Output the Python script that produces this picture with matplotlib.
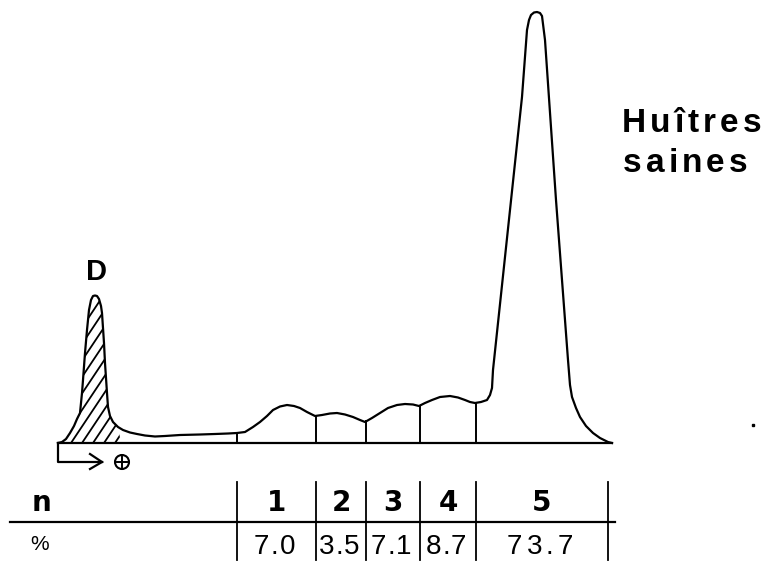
import numpy as np
import matplotlib
matplotlib.use("Agg")
from matplotlib import pyplot as plt
from matplotlib.patches import Polygon, Circle

# Densitometer trace (x in px, height above baseline in px)
trace_x = [58, 62, 66, 70, 74, 77, 80, 82, 83, 85, 87, 89, 91, 93, 95, 97, 99, 101, 102, 104,
           105, 107, 108, 110, 113, 118, 123, 130, 137, 145, 155, 165, 180, 200, 215, 228, 237,
           245, 253, 260, 267, 273, 280, 287, 294, 300, 307, 315, 322, 330, 337, 345, 353, 360,
           365, 372, 380, 388, 397, 405, 413, 419, 425, 432, 440, 450, 458, 465, 470, 475, 481,
           487, 490, 492, 493, 522, 527, 529, 531, 534, 537, 540, 542, 545, 556, 568, 570, 572,
           576, 580, 586, 593, 600, 608, 612]
trace_y = [0, 1, 4, 10, 17, 24, 30, 50, 63, 90, 113, 133, 143, 147, 147.5, 147, 144, 137, 130, 100,
           80, 50, 36, 27, 21, 16, 13, 10.5, 9, 7.5, 6.5, 7, 8, 8.5, 9, 9.5, 10,
           11, 16, 21, 27, 33, 36.5, 38, 37, 35, 31, 27, 28, 29.5, 30, 28.5, 26, 23,
           21, 25, 30, 35, 38, 39, 38.5, 37, 40, 43, 46, 47, 45.5, 43, 41, 40, 41,
           43, 48, 55, 73, 346, 413, 423, 428, 430.5, 431, 430, 427, 403, 243, 83, 58, 46,
           35, 26, 17, 10, 5, 1, 0]

# fraction boundaries (px) and table contents
cuts = [237, 316, 366, 420, 476]
table_end = 608
fractions = ["1", "2", "3", "4", "5"]
percents = ["7.0", "3.5", "7.1", "8.7", "73.7"]
d_end = 121  # end of the hatched D peak

fig = plt.figure(figsize=(7.68, 5.63), dpi=100)
ax = fig.add_axes([0, 0, 1, 1])
ax.set_xlim(0, 768)
ax.set_ylim(-120, 443)
ax.axis("off")

lw = 1.6
tx = np.array(trace_x, dtype=float)
ty = np.array(trace_y, dtype=float)
ax.plot(tx, ty, color="black", lw=lw, solid_joinstyle="round", zorder=3)
ax.plot([58, 612], [0, 0], color="black", lw=lw)

# hatched peak D (steep hatch clipped to the area under the curve)
m = tx <= d_end
verts = np.column_stack([np.r_[tx[m], d_end], np.r_[ty[m], 0]])
clip = Polygon(verts, closed=True, facecolor="none", edgecolor="none")
ax.add_patch(clip)
for x0 in np.arange(-50, 130, 11):
    ln, = ax.plot([x0, x0 + 110], [0, 165], color="black", lw=1.3)
    ln.set_clip_path(clip)

# fraction cut lines
for c in cuts:
    ax.plot([c, c], [0, np.interp(c, tx, ty)], color="black", lw=1.4)

# migration arrow and anode sign
ax.plot([58, 58, 102], [0, -19, -19], color="black", lw=lw)
ax.plot([90, 102, 90], [-11, -19, -26], color="black", lw=lw, solid_joinstyle="miter")
ax.add_patch(Circle((122, -19), 7, facecolor="none", edgecolor="black", lw=1.5))
ax.plot([117, 127], [-19, -19], color="black", lw=1.4)
ax.plot([122, 122], [-24, -14], color="black", lw=1.4)

ax.text(97, 171, "D", fontsize=21, fontweight="bold", ha="center", va="center",
        family="Liberation Sans")


def spaced(x, y, s, gap, size, weight="bold", ha="left"):
    r = fig.canvas.get_renderer()
    widths = []
    for ch in s:
        t = ax.text(0, 0, ch, fontsize=size, fontweight=weight, family="Liberation Sans")
        widths.append(t.get_window_extent(r).width)
        t.remove()
    if ha == "center":
        x -= (sum(widths) + gap * (len(s) - 1)) / 2
    for ch, w in zip(s, widths):
        ax.text(x, y, ch, fontsize=size, fontweight=weight, ha="left", va="baseline",
                family="Liberation Sans")
        x += w + gap


spaced(622, 311, "Huîtres", 4, 24)
spaced(623, 271, "saines", 4, 24)

# scan speck
ax.plot([753], [18], "s", color="black", ms=2)

# table
ax.plot([10, 615], [-79, -79], color="black", lw=lw)
bounds = cuts + [table_end]
for b in bounds:
    ax.plot([b, b], [-39, -117], color="black", lw=1.3)
ax.text(42, -60, "n", fontsize=20, fontweight="bold", ha="center", va="center",
        family="DejaVu Sans")
ax.text(40, -101, "%", fontsize=15, ha="center", va="center", family="Liberation Sans")
gaps = [2, 1, 1, 1, 4]
for i in range(len(fractions)):
    cx = (bounds[i] + bounds[i + 1]) / 2
    ax.text(cx, -60, fractions[i], fontsize=20, fontweight="bold", ha="center", va="center",
            family="DejaVu Sans")
    spaced(cx - 2, -111, percents[i], gaps[i], 20, weight="normal", ha="center")

fig.savefig("out.png", dpi=100)
